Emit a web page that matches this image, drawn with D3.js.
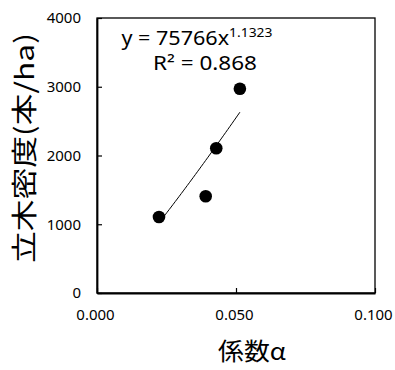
<!DOCTYPE html>
<html>
<head>
<meta charset="utf-8">
<script src="https://cdn.jsdelivr.net/npm/d3@7"></script>
<style>
  html, body { margin: 0; padding: 0; background: #fff; }
  svg { display: block; font-family: "Noto Sans", "Liberation Sans", sans-serif; }
</style>
</head>
<body>
<svg id="chart" width="395" height="370"></svg>
<script>
// ── Data ─────────────────────────────────────────────
const alpha   = [0.0223, 0.0391, 0.0429, 0.0514];   // 係数α
const density = [1105, 1407, 2105, 2972];           // 立木密度(本/ha)
const xTicks  = [0, 0.05, 0.1];
const yTicks  = [0, 1000, 2000, 3000, 4000];
const fitA = 75766, fitB = 1.1323, fitR2 = 0.868;   // power trendline

// ── Layout ───────────────────────────────────────────
const W = 395, H = 370;
const m = { left: 97, right: 20, top: 18, bottom: 77 };
const svg = d3.select('#chart');

const x = d3.scaleLinear().domain([0, 0.1]).range([m.left, W - m.right]);
const y = d3.scaleLinear().domain([0, 4000]).range([H - m.bottom, m.top]);

// stretch a text node horizontally so it spans targetW px (reference is squeezed)
function fitWidth(g, targetW) {
  const bw = g.node().getBBox().width || 1;
  return targetW / bw;
}

// frame
svg.append('rect')
  .attr('x', x(0)).attr('y', y(4000))
  .attr('width', x(0.1) - x(0)).attr('height', y(0) - y(4000))
  .attr('fill', 'none').attr('stroke', '#000').attr('stroke-width', 1.3);

// axes (ticks inward)
const xAxis = svg.append('g').attr('transform', `translate(0,${y(0)})`)
  .call(d3.axisBottom(x).tickValues(xTicks).tickSizeInner(-5).tickSizeOuter(0).tickFormat(d3.format('.3f')));
const yAxis = svg.append('g').attr('transform', `translate(${x(0)},0)`)
  .call(d3.axisLeft(y).tickValues(yTicks).tickSizeInner(-5).tickSizeOuter(0).tickFormat(d3.format('d')));

[xAxis, yAxis].forEach(a => {
  a.select('.domain').attr('stroke', '#000').attr('stroke-width', 1.8);
  a.selectAll('.tick line').attr('stroke', '#000').attr('stroke-width', 1.2);
  a.selectAll('.tick text').attr('fill', '#000').attr('font-size', 15)
    .attr('font-family', '"Noto Sans", "Liberation Sans", sans-serif');
});
xAxis.selectAll('.tick text').attr('y', 16).attr('dy', '0.71em').attr('dx', -2);
yAxis.selectAll('.tick text').attr('x', -16);

// trendline y = a·x^b between min and max x
const xs = d3.range(0, 41).map(i => d3.min(alpha) + (d3.max(alpha) - d3.min(alpha)) * i / 40);
svg.append('path')
  .datum(xs)
  .attr('fill', 'none').attr('stroke', '#000').attr('stroke-width', 1)
  .attr('d', d3.line().x(d => x(d)).y(d => y(fitA * Math.pow(d, fitB))));

// points
svg.append('g').selectAll('circle')
  .data(alpha.map((a, i) => [a, density[i]]))
  .join('circle')
  .attr('cx', d => x(d[0])).attr('cy', d => y(d[1]))
  .attr('r', 6.3).attr('fill', '#000');

// equation labels
const eq1 = svg.append('g');
const t1 = eq1.append('text').attr('font-size', 19.5).attr('fill', '#000');
t1.append('tspan').text(`y = ${fitA}x`);
t1.append('tspan').attr('font-size', 12.5).attr('dy', -8).text(fitB);
eq1.attr('transform', `translate(121.5,45) scale(${fitWidth(eq1, 151)},1)`);

const eq2 = svg.append('g');
eq2.append('text').attr('font-size', 19.5).attr('fill', '#000').text(`R² = ${fitR2}`);
eq2.attr('transform', `translate(153,70) scale(${fitWidth(eq2, 104)},1)`);

// axis titles
svg.append('text')
  .attr('x', 218).attr('y', 360)
  .attr('font-size', 24).attr('fill', '#000')
  .attr('font-family', '"Noto Sans CJK JP", sans-serif')
  .attr('textLength', 68).attr('lengthAdjust', 'spacingAndGlyphs')
  .text('係数α');

svg.append('text')
  .attr('transform', 'translate(34,263) rotate(-90)')
  .attr('font-size', 26).attr('fill', '#000')
  .attr('font-family', '"Noto Sans CJK JP", sans-serif')
  .attr('textLength', 230).attr('lengthAdjust', 'spacingAndGlyphs')
  .text('立木密度(本/ha)');
</script>
</body>
</html>
